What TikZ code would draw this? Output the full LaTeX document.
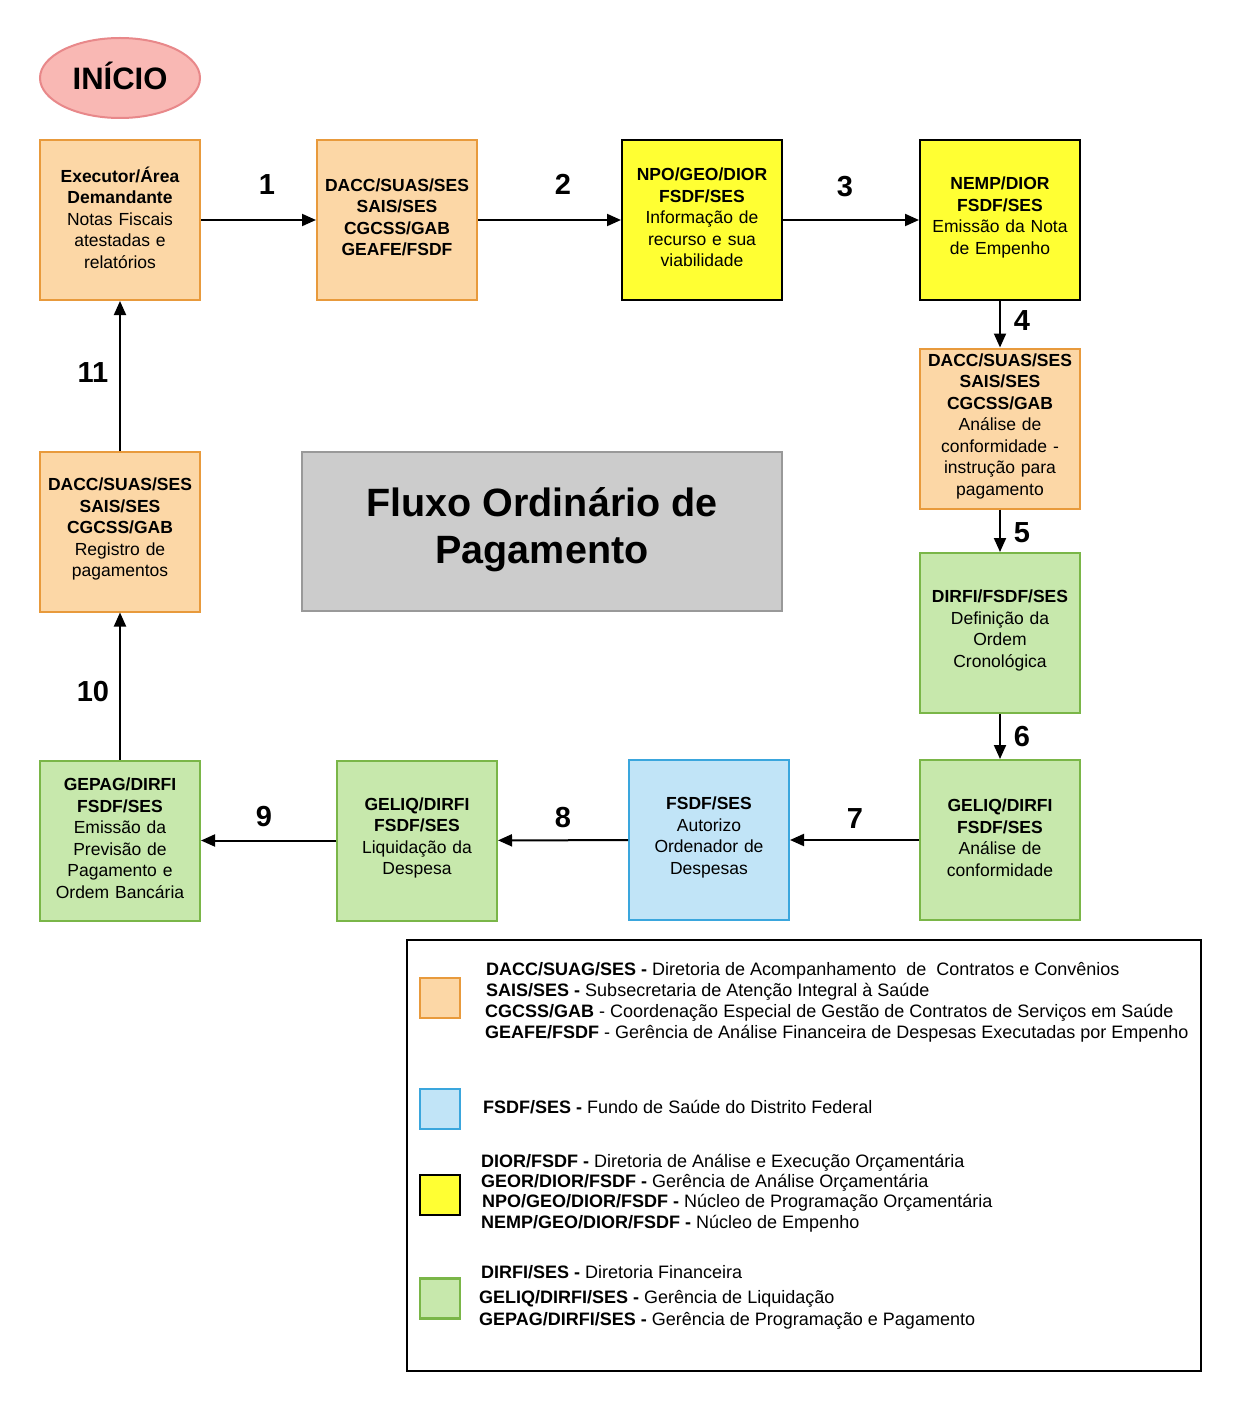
\documentclass[tikz,border=0pt]{standalone}
\usepackage{fontspec}
\setmainfont{Liberation Sans}
\usetikzlibrary{arrows.meta,shapes.geometric}
\definecolor{orfill}{HTML}{FCD7A6}
\definecolor{ordraw}{HTML}{E89A3C}
\definecolor{grfill}{HTML}{C7E8AC}
\definecolor{grdraw}{HTML}{7AB648}
\definecolor{blfill}{HTML}{C1E4F7}
\definecolor{bldraw}{HTML}{3AA6DD}
\definecolor{yefill}{HTML}{FFFF33}
\definecolor{pkfill}{HTML}{F9B8B4}
\definecolor{pkdraw}{HTML}{E8888A}
\definecolor{gyfill}{HTML}{CCCCCC}
\definecolor{gydraw}{HTML}{999999}
\newcommand{\boxfont}{\fontsize{17.5}{21.5}\selectfont}
\newcommand{\legfont}{\fontsize{18}{21}\selectfont}
\tikzset{
  procbox/.style={rectangle, minimum width=160pt, minimum height=160pt, line width=2pt, align=center, font=\boxfont, inner sep=2pt, text width=156pt, execute at end node={\par\vspace{5pt}}},
  orbox/.style={procbox, fill=orfill, draw=ordraw},
  grbox/.style={procbox, fill=grfill, draw=grdraw},
  blbox/.style={procbox, fill=blfill, draw=bldraw},
  yebox/.style={procbox, fill=yefill, draw=black},
  arr/.style={line width=2pt, -{Triangle[length=14pt,width=12pt]}},
  steplabel/.style={font=\fontsize{29}{30}\selectfont\bfseries, inner sep=0pt},
  legtext/.style={anchor=west, font=\legfont, inner sep=0pt, text height=13pt, text depth=4pt},
  swatch/.style={rectangle, minimum width=40pt, minimum height=40pt, line width=2.5pt, inner sep=0pt}
}
\begin{document}
\begin{tikzpicture}[x=1pt,y=-1pt]
\useasboundingbox[fill=white] (0,0) rectangle (1241,1412);

% start
\node[ellipse, minimum width=160pt, minimum height=80pt, fill=pkfill, draw=pkdraw, line width=2pt] (start) at (120,78) {};
\node[font=\fontsize{31}{32}\selectfont\bfseries, inner sep=0pt] (starttext) at (120,76) {INÍCIO};

% boxes
\node[orbox] (b1) at (120,220) {\textbf{Executor/Área}\\\textbf{Demandante}\\Notas Fiscais\\atestadas e\\relatórios};
\node[orbox] (b2) at (397,220) {\textbf{DACC/SUAS/SES}\\\textbf{SAIS/SES}\\\textbf{CGCSS/GAB}\\\textbf{GEAFE/FSDF}};
\node[yebox] (b3) at (702,220) {\textbf{NPO/GEO/DIOR}\\\textbf{FSDF/SES}\\Informação de\\recurso e sua\\viabilidade};
\node[yebox] (b4) at (1000,220) {\textbf{NEMP/DIOR}\\\textbf{FSDF/SES}\\Emissão da Nota\\de Empenho};
\node[orbox] (b5) at (1000,428.5) {\textbf{DACC/SUAS/SES}\\\textbf{SAIS/SES}\\\textbf{CGCSS/GAB}\\Análise de\\conformidade -\\instrução para\\pagamento};
\node[grbox] (b6) at (1000,633) {\textbf{DIRFI/FSDF/SES}\\Definição da\\Ordem\\Cronológica};
\node[grbox] (b7) at (1000,840) {\textbf{GELIQ/DIRFI}\\\textbf{FSDF/SES}\\Análise de\\conformidade};
\node[blbox] (b8) at (709,840) {\textbf{FSDF/SES}\\Autorizo\\Ordenador de\\Despesas};
\node[grbox] (b9) at (417,840.5) {\textbf{GELIQ/DIRFI}\\\textbf{FSDF/SES}\\Liquidação da\\Despesa};
\node[grbox] (b10) at (120,840.5) {\textbf{GEPAG/DIRFI}\\\textbf{FSDF/SES}\\Emissão da\\Previsão de\\Pagamento e\\Ordem Bancária};
\node[orbox] (b11) at (120,531.5) {\textbf{DACC/SUAS/SES}\\\textbf{SAIS/SES}\\\textbf{CGCSS/GAB}\\Registro de\\pagamentos};

% title
\node[rectangle, minimum width=480pt, minimum height=159pt, fill=gyfill, draw=gydraw, line width=2pt] (title) at (542,531.5) {};
\node[align=center, font=\fontsize{39.5}{47}\selectfont\bfseries, inner sep=0pt] (titletext) at (542,530) {Fluxo Ordinário de\\Pagamento};

% connectors
\draw[arr] (b1) -- (b2);
\draw[arr] (b2) -- (b3);
\draw[arr] (b3) -- (b4);
\draw[arr] (b4) -- (b5);
\draw[arr] (b5) -- (b6);
\draw[arr] (b6) -- (b7);
\draw[arr] (b7) -- (b8);
\draw[arr] (b8) -- (b9);
\draw[arr] (b9) -- (b10);
\draw[arr] (b10) -- (b11);
\draw[arr] (b11) -- (b1);

% step labels
\node[steplabel] (l1) at (267,185) {1};
\node[steplabel] (l2) at (563,184) {2};
\node[steplabel] (l3) at (845,187) {3};
\node[steplabel] (l4) at (1022,321) {4};
\node[steplabel] (l5) at (1022,533) {5};
\node[steplabel] (l6) at (1022,737) {6};
\node[steplabel] (l7) at (855,819) {7};
\node[steplabel] (l8) at (563,818) {8};
\node[steplabel] (l9) at (264,817) {9};
\node[steplabel] (l10) at (93,692) {10};
\node[steplabel] (l11) at (93,373) {11};

% legend
\node[rectangle, draw=black, line width=2pt, minimum width=794pt, minimum height=431pt, inner sep=0pt] (legend) at (804,1155.5) {};
\node[swatch, fill=orfill, draw=ordraw] (sw1) at (440,998) {};
\node[swatch, fill=blfill, draw=bldraw] (sw2) at (440,1109) {};
\node[swatch, fill=yefill, draw=black] (sw3) at (440,1195) {};
\node[swatch, fill=grfill, draw=grdraw] (sw4) at (440,1298.5) {};

\node[legtext] (t1) at (486,971) {\textbf{DACC/SUAG/SES -} Diretoria de Acompanhamento\ \ de\ \ Contratos e Convênios};
\node[legtext] (t2) at (486,992) {\textbf{SAIS/SES -} Subsecretaria de Atenção Integral à Saúde};
\node[legtext] (t3) at (485,1013) {\textbf{CGCSS/GAB} - Coordenação Especial de Gestão de Contratos de Serviços em Saúde};
\node[legtext] (t4) at (485,1034) {\textbf{GEAFE/FSDF} - Gerência de Análise Financeira de Despesas Executadas por Empenho};
\node[legtext] (t5) at (483,1109) {\textbf{FSDF/SES -} Fundo de Saúde do Distrito Federal};
\node[legtext] (t6) at (481,1163) {\textbf{DIOR/FSDF -} Diretoria de Análise e Execução Orçamentária};
\node[legtext] (t7) at (481,1183) {\textbf{GEOR/DIOR/FSDF -} Gerência de Análise Orçamentária};
\node[legtext] (t8) at (482,1203) {\textbf{NPO/GEO/DIOR/FSDF -} Núcleo de Programação Orçamentária};
\node[legtext] (t9) at (481,1224) {\textbf{NEMP/GEO/DIOR/FSDF -} Núcleo de Empenho};
\node[legtext] (t10) at (481,1274) {\textbf{DIRFI/SES -} Diretoria Financeira};
\node[legtext] (t11) at (479,1299) {\textbf{GELIQ/DIRFI/SES -} Gerência de Liquidação};
\node[legtext] (t12) at (479,1321) {\textbf{GEPAG/DIRFI/SES -} Gerência de Programação e Pagamento};
\end{tikzpicture}
\end{document}
